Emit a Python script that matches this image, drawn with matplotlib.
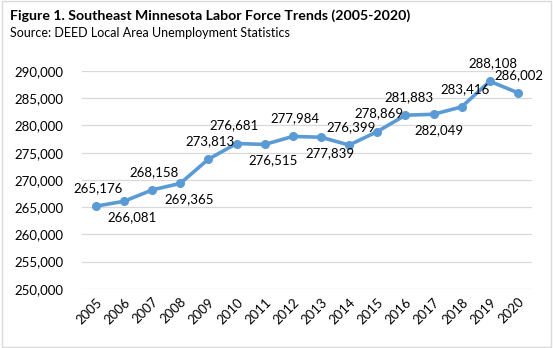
import matplotlib.pyplot as plt
import matplotlib.patches as patches
from matplotlib.ticker import FuncFormatter

years = [str(y) for y in range(2005, 2021)]
labor_force = [265176, 266081, 268158, 269365, 273813, 276681, 276515, 277984,
               277839, 276399, 278869, 281883, 282049, 283416, 288108, 286002]
# label placement: +1 above the point, -1 below
label_side = [1, -1, 1, -1, 1, 1, -1, 1, -1, 1, 1, 1, -1, 1, 1, 1]
label_dx = [2, 8, 2, 9, 2, -3, 8, 2, 9, 2, 2, 4, 5, 3, 3, 1]

line_color = "#5B9BD5"
grid_color = "#D9D9D9"

plt.rcParams['font.family'] = ['Lato', 'DejaVu Sans']

fig = plt.figure(figsize=(5.53, 3.48), dpi=100)
ax = fig.add_axes([0.148, 0.170, 0.814, 0.626])

x = list(range(len(years)))
ax.plot(x, labor_force, color=line_color, linewidth=2.6, marker='o',
        markersize=5.5, solid_capstyle='round', zorder=3)

for i, v in enumerate(labor_force):
    dy = 18 if label_side[i] > 0 else -16
    ax.annotate(f"{v:,}", (i, v), xytext=(label_dx[i], dy), textcoords='offset pixels',
                ha='center', va='center', fontsize=9.5, color='#000000',
                annotation_clip=False, zorder=4)

ax.set_xlim(-0.5, len(years) - 0.5)
ax.set_ylim(250000, 290000)
ax.set_yticks(range(250000, 290001, 5000))
ax.yaxis.set_major_formatter(FuncFormatter(lambda v, p: f"{int(v):,}"))
ax.set_xticks(x)
ax.set_xticklabels(years, rotation=45, ha='right', rotation_mode='anchor')
ax.tick_params(axis='both', length=0, labelsize=9.5, colors='#000000')
ax.tick_params(axis='y', pad=13)
ax.tick_params(axis='x', pad=5)
ax.grid(axis='y', color=grid_color, linewidth=0.9)
ax.set_axisbelow(True)
for s in ax.spines.values():
    s.set_visible(False)

fig.text(0.018, 0.955, "Figure 1. Southeast Minnesota Labor Force Trends (2005-2020)",
         fontsize=10.2, fontweight='bold', ha='left', va='center')
fig.text(0.018, 0.905, "Source: DEED Local Area Unemployment Statistics",
         fontsize=9.0, ha='left', va='center')

border = patches.Rectangle((0.004, 0.004), 0.992, 0.992, transform=fig.transFigure,
                           fill=False, edgecolor=grid_color, linewidth=1)
fig.patches.append(border)

fig.savefig("out.png", dpi=100)
